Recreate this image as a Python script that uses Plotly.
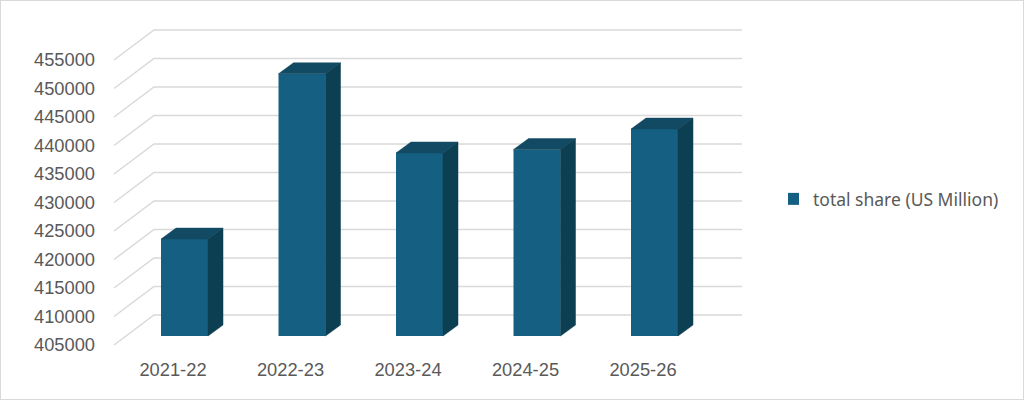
import plotly.graph_objects as go

# values
years = ['2021-22', '2022-23', '2023-24', '2024-25', '2025-26']
total_share = [422000, 451000, 437100, 437700, 441300]
y_ticks = [405000, 410000, 415000, 420000, 425000, 430000, 435000, 440000, 445000, 450000, 455000]

W, H = 1024, 400
FRONT = '#156082'
TOP = '#124A63'
SIDE = '#0D3F52'
GRID = '#D9D9D9'
TEXT = '#595959'

# fake 3d geometry, pixel sizes turned into axis units
px_per_cat = 117.5
px_per_val = 28.5 / 5000
first_bar_px = 184.5
bar_width = 47 / px_per_cat
base = y_ticks[0]

bar_dx = 15 / px_per_cat
bar_dy = 11 / px_per_val
wall_left = (114 - first_bar_px) / px_per_cat
wall_dx = 40 / px_per_cat
wall_dy = 30 / px_per_val
wall_right = (742 - first_bar_px) / px_per_cat
label_shift = -11.5 / px_per_cat

xpos = list(range(len(years)))
x_range = [-first_bar_px / px_per_cat, (W - first_bar_px) / px_per_cat]


def val_range(base_px):
    return [base - (H - base_px) / px_per_val, base + base_px / px_per_val]


# gridlines run along the left wall then across the back wall
grid_x, grid_y = [], []
for t in y_ticks:
    grid_x += [wall_left, wall_left + wall_dx, wall_right, None]
    grid_y += [t, t + wall_dy, t + wall_dy, None]

top_x, top_y, side_x, side_y = [], [], [], []
for x, v in zip(xpos, total_share):
    l = x - bar_width / 2
    r = x + bar_width / 2
    top_x += [l, r, r + bar_dx, l + bar_dx, l, None]
    top_y += [v, v, v + bar_dy, v + bar_dy, v, None]
    side_x += [r, r + bar_dx, r + bar_dx, r, r, None]
    side_y += [base, base + bar_dy, v + bar_dy, v, base, None]

fig = go.Figure()
fig.add_trace(go.Scatter(x=grid_x, y=grid_y, mode='lines', yaxis='y',
                         line=dict(color=GRID, width=1.5), showlegend=False, hoverinfo='skip'))
fig.add_trace(go.Scatter(x=top_x, y=top_y, mode='lines', fill='toself', fillcolor=TOP, yaxis='y2',
                         line=dict(color=TOP, width=0.5), showlegend=False, hoverinfo='skip'))
fig.add_trace(go.Scatter(x=side_x, y=side_y, mode='lines', fill='toself', fillcolor=SIDE, yaxis='y2',
                         line=dict(color=SIDE, width=0.5), showlegend=False, hoverinfo='skip'))
fig.add_trace(go.Bar(x=xpos, y=[v - base for v in total_share], base=base, width=bar_width, yaxis='y2',
                     marker=dict(color=FRONT, line=dict(width=0)), name='total share (US Million)'))

fig.update_layout(
    width=W, height=H,
    margin=dict(l=0, r=0, t=0, b=0),
    paper_bgcolor='white', plot_bgcolor='white',
    font=dict(family='Liberation Sans', color=TEXT),
    xaxis=dict(range=x_range, domain=[0, 1], showgrid=False, zeroline=False, showline=False,
               tickmode='array', tickvals=[x + label_shift for x in xpos], ticktext=years,
               ticks='', tickfont=dict(size=18.3), anchor='free', position=1 - 357 / H),
    yaxis=dict(range=val_range(345), domain=[0, 1], showgrid=False, zeroline=False, showline=False,
               tickmode='array', tickvals=y_ticks, ticktext=[str(t) for t in y_ticks],
               ticks='', tickfont=dict(size=18.3), anchor='free', position=95 / W),
    yaxis2=dict(range=val_range(336), domain=[0, 1], overlaying='y', visible=False),
    legend=dict(x=788 / W, y=1 - 199 / H, xanchor='left', yanchor='middle', itemwidth=30, indentation=-15,
                font=dict(family='Noto Sans', size=17.5, color=TEXT), bgcolor='rgba(0,0,0,0)'),
    shapes=[dict(type='rect', xref='paper', yref='paper', x0=0, x1=1, y0=0, y1=1,
                 line=dict(color=GRID, width=2), fillcolor='rgba(0,0,0,0)')],
)

# page default body margin would push the chart off by 8px
fig.write_html('out.html', config={'displayModeBar': False},
               post_script="document.body.style.margin='0';document.body.style.overflow='hidden';")
